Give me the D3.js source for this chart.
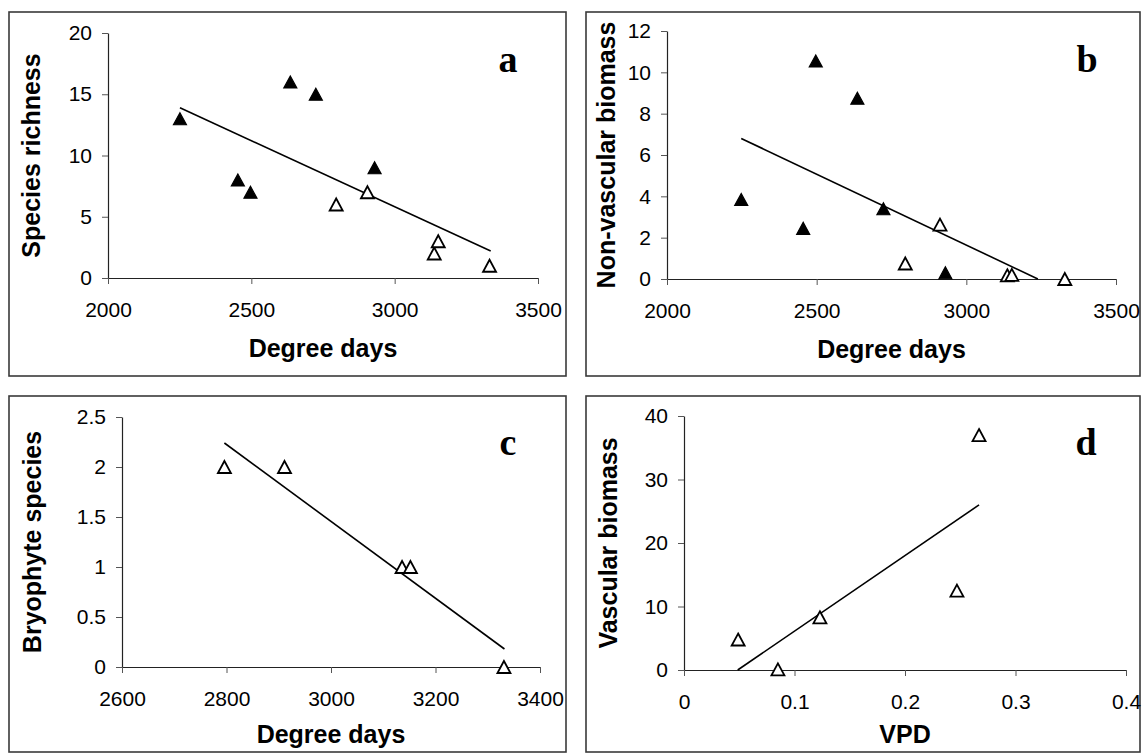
<!DOCTYPE html>
<html>
<head>
<meta charset="utf-8">
<script src="https://cdn.jsdelivr.net/npm/d3@7"></script>
<style>
    body { margin: 0; background: #fff; }
    .tick text { font-family: "Liberation Sans", Arial, sans-serif; font-size: 21px; fill: #000; }
    .axis-title { font-family: "Liberation Sans", Arial, sans-serif; font-size: 25px; font-weight: bold; }
    .panel-letter { font-family: "Liberation Serif", "Times New Roman", serif; font-size: 38px; font-weight: bold; }
</style>
</head>
<body>
<script>
// panel a - species richness vs degree days
var aFilled = [[2251, 13], [2453, 8], [2497, 7], [2636, 16], [2725, 15], [2930, 9]];
var aOpen = [[2796, 6], [2905, 7], [3138, 2], [3152, 3], [3331, 1]];
var aLine = [[2251, 13.9], [3335, 2.2]];

// panel b - non-vascular biomass vs degree days
var bFilled = [[2248, 3.85], [2455, 2.45], [2497, 10.55], [2636, 8.75], [2723, 3.4], [2930, 0.3]];
var bOpen = [[2796, 0.75], [2912, 2.63], [3137, 0.18], [3152, 0.2], [3329, 0]];
var bLine = [[2248, 6.8], [3239, 0]];

// panel c - bryophyte species vs degree days
var cOpen = [[2796, 2], [2911, 2], [3136, 1], [3152, 1], [3331, 0]];
var cLine = [[2796, 2.24], [3332, 0.18]];

// panel d - vascular biomass vs VPD
var dOpen = [[0.049, 4.8], [0.085, 0.1], [0.123, 8.3], [0.247, 12.5], [0.267, 37]];
var dLine = [[0.0486, 0], [0.267, 26]];

// tick labels
var ddTicks = [2000, 2500, 3000, 3500];
var ddTicksC = [2600, 2800, 3000, 3200, 3400];
var vpdTicks = [0, 0.1, 0.2, 0.3, 0.4];
var richTicks = [0, 5, 10, 15, 20];
var nvTicks = [0, 2, 4, 6, 8, 10, 12];
var bryoTicks = [0, 0.5, 1, 1.5, 2, 2.5];
var vascTicks = [0, 10, 20, 30, 40];

var svg = d3.select("body")
    .append("svg")
    .attr("width", 1142)
    .attr("height", 753);

// triangle centred on its bounding box, like the spreadsheet markers
var tri = "M0,-6L6.5,6L-6.5,6Z";

function drawPanel(p) {
    var x = d3.scaleLinear().domain(p.xDomain).range([p.left, p.right]);
    var y = d3.scaleLinear().domain(p.yDomain).range([p.bottom, p.top]);

    // frame
    svg.append("rect")
        .attr("x", p.frame[0])
        .attr("y", p.frame[1])
        .attr("width", p.frame[2] - p.frame[0])
        .attr("height", p.frame[3] - p.frame[1])
        .attr("fill", "none")
        .attr("stroke", "#3a3a3a")
        .attr("stroke-width", 1.6);

    var fmt = function(d) { return String(d); };

    var yAxis = svg.append("g")
        .attr("transform", "translate(" + p.left + ",0)")
        .call(d3.axisLeft(y).tickValues(p.yTicks).tickFormat(fmt)
            .tickSize(6).tickSizeOuter(0).tickPadding(10));

    var xAxis = svg.append("g")
        .attr("transform", "translate(0," + p.bottom + ")")
        .call(d3.axisBottom(x).tickValues(p.xTicks).tickFormat(fmt)
            .tickSize(6).tickSizeOuter(0).tickPadding(18));

    [xAxis, yAxis].forEach(function(g) {
        g.select(".domain").attr("stroke", "#222").attr("stroke-width", 1.2);
        g.selectAll(".tick line").attr("stroke", "#555");
    });

    // regression line
    svg.append("path")
        .datum(p.line)
        .attr("fill", "none")
        .attr("stroke", "#000")
        .attr("stroke-width", 1.6)
        .attr("d", d3.line()
            .x(function(d) { return x(d[0]); })
            .y(function(d) { return y(d[1]); }));

    svg.append("g").selectAll("path")
        .data(p.open)
        .enter()
        .append("path")
        .attr("d", tri)
        .attr("transform", function(d) {
            return "translate(" + x(d[0]) + "," + y(d[1]) + ")";
        })
        .attr("fill", "#fff")
        .attr("stroke", "#000")
        .attr("stroke-width", 1.8);

    svg.append("g").selectAll("path")
        .data(p.filled || [])
        .enter()
        .append("path")
        .attr("d", tri)
        .attr("transform", function(d) {
            return "translate(" + x(d[0]) + "," + y(d[1]) + ")";
        })
        .attr("fill", "#000")
        .attr("stroke", "#000")
        .attr("stroke-width", 1.2);

    // axis titles
    svg.append("text")
        .attr("class", "axis-title")
        .attr("x", (p.left + p.right) / 2)
        .attr("y", p.xTitleY)
        .attr("text-anchor", "middle")
        .text(p.xTitle);

    svg.append("text")
        .attr("class", "axis-title")
        .attr("transform", "translate(" + p.yTitleX + "," + ((p.top + p.bottom) / 2) + ") rotate(-90)")
        .attr("text-anchor", "middle")
        .attr("dy", "0.35em")
        .text(p.yTitle);

    svg.append("text")
        .attr("class", "panel-letter")
        .attr("x", p.letterX)
        .attr("y", p.letterY)
        .attr("text-anchor", "middle")
        .text(p.letter);
}

drawPanel({
    frame: [9, 12, 566, 376],
    left: 108, right: 538, top: 33, bottom: 278,
    xDomain: [2000, 3500], yDomain: [0, 20],
    xTicks: ddTicks, yTicks: richTicks,
    filled: aFilled, open: aOpen, line: aLine,
    xTitle: "Degree days", xTitleY: 357,
    yTitle: "Species richness", yTitleX: 31,
    letter: "a", letterX: 508, letterY: 72
});

drawPanel({
    frame: [586, 12, 1140, 376],
    left: 667, right: 1116, top: 31, bottom: 279,
    xDomain: [2000, 3500], yDomain: [0, 12],
    xTicks: ddTicks, yTicks: nvTicks,
    filled: bFilled, open: bOpen, line: bLine,
    xTitle: "Degree days", xTitleY: 358,
    yTitle: "Non-vascular biomass", yTitleX: 606,
    letter: "b", letterX: 1087, letterY: 72
});

drawPanel({
    frame: [9, 396, 566, 752],
    left: 122, right: 540, top: 417, bottom: 667,
    xDomain: [2600, 3400], yDomain: [0, 2.5],
    xTicks: ddTicksC, yTicks: bryoTicks,
    open: cOpen, line: cLine,
    xTitle: "Degree days", xTitleY: 743,
    yTitle: "Bryophyte species", yTitleX: 32,
    letter: "c", letterX: 508, letterY: 455
});

drawPanel({
    frame: [586, 396, 1140, 752],
    left: 684, right: 1126, top: 416, bottom: 670,
    xDomain: [0, 0.4], yDomain: [0, 40],
    xTicks: vpdTicks, yTicks: vascTicks,
    open: dOpen, line: dLine,
    xTitle: "VPD", xTitleY: 743,
    yTitle: "Vascular biomass", yTitleX: 608,
    letter: "d", letterX: 1086, letterY: 455
});
</script>
</body>
</html>
